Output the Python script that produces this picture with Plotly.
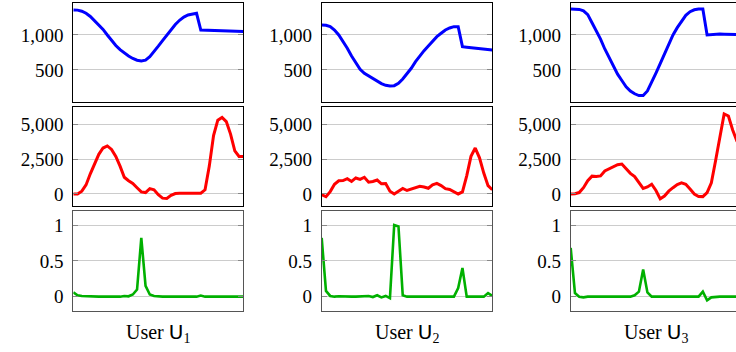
import plotly.graph_objects as go
from plotly.subplots import make_subplots

x = list(range(41))

blue_u1 = [1357, 1355, 1340, 1310, 1265, 1205, 1150, 1080, 1000, 920, 850, 790, 740, 700, 665, 640, 630, 640, 690, 760,
           840, 920, 1000, 1075, 1150, 1210, 1255, 1285, 1300, 1310, 1070, 1068, 1066, 1064, 1062, 1060, 1058, 1055, 1052, 1050, 1048]
red_u1 = [0, 0, 200, 650, 1450, 2200, 2850, 3300, 3450, 3200, 2700, 2000, 1200, 950, 750, 450, 150, 100, 380, 300,
          -50, -300, -320, -100, 30, 50, 50, 50, 50, 50, 50, 300, 2000, 4200, 5300, 5500, 5200, 4300, 3100, 2700, 2700]
green_u1 = [0.06, 0.02, 0.01, 0.005, 0.0, 0.003, 0.0, 0.0, 0.004, 0.0, 0.003, 0.0, 0.01, 0.005, 0.03, 0.1, 0.82, 0.15, 0.03, 0.01,
            0.0, 0.0, 0.0, 0.0, 0.0, 0.0, 0.0, 0.0, 0.0, 0.0, 0.015, 0.0, 0.0, 0.0, 0.0, 0.0, 0.0, 0.0, 0.0, 0.0, 0.0]

blue_u2 = [1143, 1138, 1119, 1071, 1000, 914, 810, 700, 595, 510, 452, 414, 371, 338, 305, 281, 271, 276, 310, 371,
           443, 524, 619, 705, 776, 843, 910, 976, 1024, 1071, 1100, 1119, 1119, 833, 826, 820, 813, 806, 800, 793, 786]
red_u2 = [-50, -200, 170, 700, 950, 960, 1100, 900, 1150, 1050, 1200, 850, 900, 1000, 730, 750, 200, 0, 200, 400,
          250, 350, 430, 550, 500, 410, 650, 760, 600, 380, 320, 150, 0, 150, 1300, 2700, 3300, 2600, 1500, 600, 300]
green_u2 = [0.82, 0.08, 0.01, 0.0, 0.005, 0.0, 0.005, 0.0, 0.0, 0.005, 0.0, 0.01, -0.005, 0.02, -0.01, 0.01, -0.02, 1.0, 0.98, 0.02,
            0.0, 0.0, 0.005, 0.0, 0.0, 0.005, 0.0, 0.0, 0.0, 0.005, 0.0, 0.0, 0.12, 0.4, 0.0, 0.0, 0.0, 0.0, 0.0, 0.05, 0.01]

blue_u3 = [1371, 1371, 1365, 1345, 1290, 1175, 1060, 940, 800, 680, 550, 440, 350, 260, 200, 160, 135, 135, 200, 320,
           455, 590, 730, 870, 1000, 1105, 1200, 1280, 1333, 1360, 1371, 1371, 1000, 1008, 1012, 1014, 1012, 1010, 1008, 1005, 1005]
red_u3 = [0, 20, 100, 450, 950, 1280, 1250, 1300, 1650, 1800, 1950, 2100, 2150, 1800, 1480, 1250, 850, 400, 500, 700,
          250, -350, -150, 200, 450, 680, 800, 700, 350, 0, -180, -190, 100, 800, 2400, 4100, 5750, 5600, 4600, 3800, 3500]
green_u3 = [0.68, 0.05, 0.0, -0.01, 0.0, 0.0, 0.0, 0.0, 0.0, 0.0, 0.0, 0.0, 0.0, 0.0, 0.0, 0.02, 0.07, 0.38, 0.06, 0.0,
            0.0, 0.0, 0.0, 0.0, 0.0, 0.0, 0.0, 0.0, 0.0, 0.0, 0.0, 0.07, -0.05, -0.01, 0.0, 0.0, 0.0, 0.0, 0.0, 0.0, 0.0]

users = ["1", "2", "3"]
blue_series = [blue_u1, blue_u2, blue_u3]
red_series = [red_u1, red_u2, red_u3]
green_series = [green_u1, green_u2, green_u3]

row1_ticks = [500, 1000]
row1_labels = ["500", "1,000"]
row2_ticks = [0, 2500, 5000]
row2_labels = ["0", "2,500", "5,000"]
row3_ticks = [0, 0.5, 1]
row3_labels = ["0", "0.5", "1"]

W, H = 736, 352
col_px = [(73.3, 243.3), (321.7, 492.3), (570.7, 741.2)]
row_px = [(2.7, 101.7), (106.7, 206.0), (211.0, 311.0)]

fig = make_subplots(rows=3, cols=3)

colors = ["#0000ff", "#ff0000", "#00b000"]
widths = [3, 3, 2.6]
allseries = [blue_series, red_series, green_series]
for r in range(3):
    for c in range(3):
        fig.add_trace(go.Scatter(x=x, y=allseries[r][c], mode="lines",
                                 line=dict(color=colors[r], width=widths[r]),
                                 showlegend=False, hoverinfo="skip"),
                      row=r + 1, col=c + 1)

yranges = [[47, 1461], [-865, 6270], [-0.2, 1.196]]
yticks = [(row1_ticks, row1_labels), (row2_ticks, row2_labels), (row3_ticks, row3_labels)]
framecol = ["#000000", "#000000", "#555555"]
font = dict(family="Liberation Serif", size=19, color="#000000")
labfont = dict(family="Liberation Serif", size=20, color="#000000")

for r in range(3):
    for c in range(3):
        idx = r * 3 + c + 1
        xa = "xaxis" if idx == 1 else f"xaxis{idx}"
        ya = "yaxis" if idx == 1 else f"yaxis{idx}"
        x0, x1 = col_px[c]
        y0, y1 = row_px[r]
        xend = min(x1, W)
        xr_max = 40 * (xend - x0) / (x1 - x0)
        fig.layout[xa].update(domain=[x0 / W, xend / W], range=[0, xr_max],
                              showgrid=False, zeroline=False, showticklabels=False,
                              ticks="", showline=True, linecolor=framecol[r], linewidth=1,
                              mirror=True)
        fig.layout[ya].update(domain=[1 - y1 / H, 1 - y0 / H], range=yranges[r],
                              tickvals=yticks[r][0], ticktext=yticks[r][1],
                              showgrid=True, gridcolor="#cccccc", gridwidth=1, zeroline=False,
                              ticks="inside", ticklen=5, tickcolor="#888888", tickwidth=1,
                              showline=True, linecolor=framecol[r], linewidth=1,
                              mirror=("ticks" if c < 2 else False),
                              tickfont=font, ticklabelstandoff=5)

for c in range(3):
    x0, x1 = col_px[c]
    fig.add_annotation(x=(x0 + x1) / 2 / W, y=1 - 333 / H, xref="paper", yref="paper",
                       text=f'User <span style="font-family:DejaVu Sans">U</span><sub>{users[c]}</sub>',
                       showarrow=False, font=labfont, xanchor="center", yanchor="middle")

fig.update_layout(width=W, height=H, margin=dict(l=0, r=0, t=0, b=0),
                  plot_bgcolor="white", paper_bgcolor="white")

fig.write_html("out.html", config={"displayModeBar": False},
               post_script="document.body.style.margin='0';document.body.style.overflow='hidden';")
